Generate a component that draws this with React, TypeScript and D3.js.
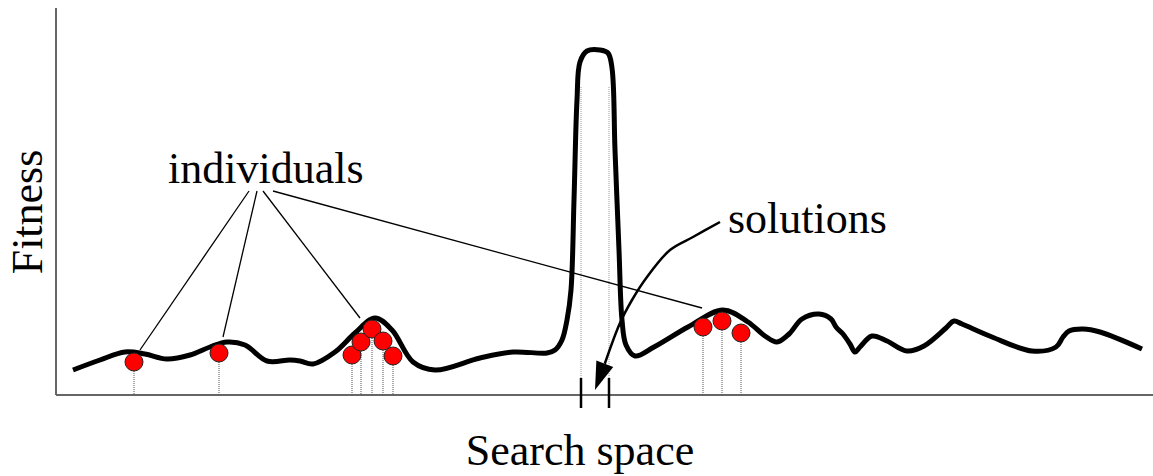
import { useEffect, useRef } from "react"
import * as d3 from "d3"

// fitness landscape, [search position, fitness]
const landscape: [number, number][] = [
  [17, 25], [44, 35], [69, 43], [89, 41], [111, 36], [134, 40], [154, 48], [171, 53],
  [189, 50], [211, 34], [234, 35], [244, 34], [257, 31], [279, 43], [299, 62], [319, 77],
  [336, 65], [357, 33], [379, 25], [424, 37], [457, 43], [491, 42], [499, 45], [506, 55],
  [511, 75], [515, 105], [518, 195], [521, 295], [524, 333], [531, 344], [544, 345],
  [552, 342], [556, 327], [559, 245], [563, 145], [566, 75], [570, 50], [579, 39],
  [598, 48], [632, 68], [667, 85], [692, 73], [709, 59], [721, 53], [733, 61], [746, 76],
  [763, 81], [775, 76], [780, 68], [787, 61], [794, 51], [799, 43], [804, 48], [816, 59],
  [831, 54], [851, 44], [868, 49], [890, 67], [898, 74], [906, 71], [936, 58], [976, 44],
  [1000, 48], [1007, 58], [1013, 64], [1027, 66], [1044, 63], [1086, 46],
]

// population members
const individuals: [number, number][] = [
  [78, 33], [163, 42],
  [296, 40], [305, 53], [316, 66], [327, 54], [337, 39],
  [647, 68], [666, 74], [685, 62],
]

// where the global optimum sits
const solutions = [525, 553]
const solutionTop = 308

// leader lines from the "individuals" label
const leaderStarts: [number, number][] = [[193, 204], [201, 204], [207, 204], [217, 204]]
const leaderEnds: [number, number][] = [[84, 45], [167, 58], [304, 77], [646, 87]]

// curved arrow from the "solutions" label
const arrowPath: [number, number][] = [[664, 173], [637, 158], [614, 145], [591, 118], [576, 95], [564, 72]]
const arrowTip: [number, number] = [539, 5]

export default function App() {
  const svgRef = useRef<SVGSVGElement>(null)

  useEffect(() => {
    if (!svgRef.current) return
    document.body.style.margin = "0"

    const svg = d3.select(svgRef.current)
    svg.selectAll("*").remove()

    const x = d3.scaleLinear().domain([0, 1097]).range([56, 1153])
    const y = d3.scaleLinear().domain([0, 387]).range([395, 8])
    const font = "'Liberation Serif', 'Times New Roman', serif"

    // axes
    svg.append("line")
      .attr("x1", x(0)).attr("x2", x(0)).attr("y1", y(387)).attr("y2", y(0))
      .attr("stroke", "#666").attr("stroke-width", 2)
    svg.append("line")
      .attr("x1", x(0)).attr("x2", x(1097)).attr("y1", y(0)).attr("y2", y(0))
      .attr("stroke", "#666").attr("stroke-width", 2)

    // dotted drop lines for the solutions
    svg.selectAll(".sol")
      .data(solutions)
      .join("line")
      .attr("x1", (d) => x(d)).attr("x2", (d) => x(d))
      .attr("y1", y(solutionTop)).attr("y2", y(0))
      .attr("stroke", "#999").attr("stroke-width", 1).attr("stroke-dasharray", "1,1")

    // drop lines for the individuals
    svg.selectAll(".drop")
      .data(individuals)
      .join("line")
      .attr("x1", (d) => x(d[0])).attr("x2", (d) => x(d[0]))
      .attr("y1", (d) => y(d[1]) + 9).attr("y2", y(0))
      .attr("stroke", "#555").attr("stroke-width", 1).attr("stroke-dasharray", "1,1")

    // landscape curve
    const line = d3.line<[number, number]>()
      .x((d) => x(d[0]))
      .y((d) => y(d[1]))
      .curve(d3.curveCatmullRom.alpha(0.5))
    svg.append("path")
      .attr("d", line(landscape))
      .attr("fill", "none")
      .attr("stroke", "#000")
      .attr("stroke-width", 5)
      .attr("stroke-linejoin", "round")
      .attr("stroke-linecap", "butt")

    // solution ticks on the axis
    svg.selectAll(".tick")
      .data(solutions)
      .join("line")
      .attr("x1", (d) => x(d)).attr("x2", (d) => x(d))
      .attr("y1", y(0) - 17).attr("y2", y(0) + 13)
      .attr("stroke", "#000").attr("stroke-width", 2.5)

    // individuals
    svg.selectAll(".ind")
      .data(individuals)
      .join("circle")
      .attr("cx", (d) => x(d[0]))
      .attr("cy", (d) => y(d[1]))
      .attr("r", 9)
      .attr("fill", "#ff0000")
      .attr("stroke", "#222")
      .attr("stroke-width", 1)

    // leader lines
    svg.selectAll(".leader")
      .data(leaderEnds)
      .join("line")
      .attr("x1", (_, i) => x(leaderStarts[i][0]))
      .attr("y1", (_, i) => y(leaderStarts[i][1]))
      .attr("x2", (d) => x(d[0]))
      .attr("y2", (d) => y(d[1]))
      .attr("stroke", "#000").attr("stroke-width", 1.3)

    // curved arrow
    const px = arrowPath.map((d) => [x(d[0]), y(d[1])] as [number, number])
    const last = px[px.length - 1]
    const tip: [number, number] = [x(arrowTip[0]), y(arrowTip[1])]
    const dx = tip[0] - last[0]
    const dy = tip[1] - last[1]
    const len = Math.hypot(dx, dy)
    const ux = dx / len
    const uy = dy / len
    const head = 28
    const half = 9
    const base: [number, number] = [tip[0] - ux * head, tip[1] - uy * head]
    svg.append("path")
      .attr("d", d3.line().curve(d3.curveCatmullRom.alpha(0.5))([...px, base]))
      .attr("fill", "none")
      .attr("stroke", "#000")
      .attr("stroke-width", 2.5)
    svg.append("path")
      .attr("d", `M${tip[0]},${tip[1]}L${base[0] - uy * half},${base[1] + ux * half}L${base[0] + uy * half},${base[1] - ux * half}Z`)
      .attr("fill", "#000")

    // labels
    svg.append("text")
      .attr("x", 168).attr("y", 183)
      .attr("font-family", font).attr("font-size", 44)
      .text("individuals")
    svg.append("text")
      .attr("x", 728).attr("y", 233)
      .attr("font-family", font).attr("font-size", 44)
      .text("solutions")
    svg.append("text")
      .attr("x", x(524)).attr("y", 465)
      .attr("text-anchor", "middle")
      .attr("font-family", font).attr("font-size", 44)
      .text("Search space")
    svg.append("text")
      .attr("transform", `translate(42,${y(183)}) rotate(-90)`)
      .attr("text-anchor", "middle")
      .attr("font-family", font).attr("font-size", 44)
      .text("Fitness")
  }, [])

  return <svg ref={svgRef} width={1153} height={476} style={{ display: "block", background: "#fff" }} />
}
